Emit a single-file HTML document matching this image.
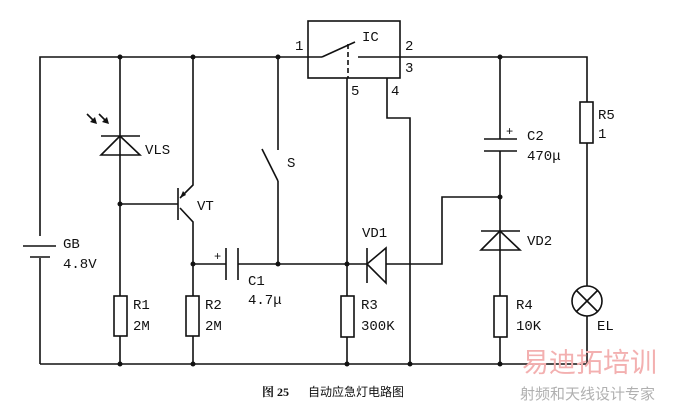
<!DOCTYPE html>
<html><head><style>body{margin:0;background:#fff}svg{display:block}text{font-family:"Liberation Mono",monospace;font-size:14px;fill:#111}</style></head><body>
<svg width="675" height="403" viewBox="0 0 675 403" xmlns="http://www.w3.org/2000/svg">
<g stroke="#111" stroke-width="1.6" fill="none">
<polyline points="40,236 40,57 322,57"/>
<line x1="40" y1="258" x2="40" y2="364"/>
<line x1="40" y1="364" x2="587" y2="364"/>
<polyline points="358,57 587,57 587,102"/>
<line x1="23" y1="246" x2="56" y2="246"/><line x1="30" y1="257" x2="50" y2="257"/>
<rect x="308" y="21" width="92" height="57"/>
<line x1="322" y1="57" x2="355" y2="42"/>
<line x1="348" y1="44" x2="348" y2="78" stroke-dasharray="5,3"/>
<line x1="347" y1="78" x2="347" y2="296"/><line x1="347" y1="337" x2="347" y2="364"/>
<polyline points="387,78 387,118 410,118 410,364"/>
<line x1="120" y1="57" x2="120" y2="296"/><line x1="120" y1="336" x2="120" y2="364"/>
<line x1="101" y1="136" x2="140" y2="136"/>
<polygon points="120,136 101,155 140,155" fill="#fff"/>
<line x1="120" y1="136" x2="120" y2="155"/>
<line x1="87" y1="114" x2="95" y2="122"/><line x1="99" y1="114" x2="107" y2="122"/>
<line x1="120" y1="204" x2="178" y2="204"/>
<line x1="178" y1="188" x2="178" y2="220"/>
<polyline points="180,198 193,185 193,57"/>
<polyline points="180,208 193,222 193,296"/>
<line x1="193" y1="336" x2="193" y2="364"/>
<line x1="193" y1="264" x2="226" y2="264"/>
<line x1="226" y1="248" x2="226" y2="280"/><line x1="238" y1="248" x2="238" y2="280"/>
<line x1="238" y1="264" x2="367" y2="264"/>
<line x1="278" y1="57" x2="278" y2="150"/>
<line x1="262" y1="149" x2="278" y2="181"/>
<line x1="278" y1="181" x2="278" y2="264"/>
<line x1="367" y1="248" x2="367" y2="283"/>
<polygon points="367,264 386,248 386,283" fill="#fff"/>
<polyline points="386,264 442,264 442,197 500,197"/>
<line x1="500" y1="57" x2="500" y2="139"/>
<line x1="484" y1="139" x2="517" y2="139"/><line x1="484" y1="151" x2="517" y2="151"/>
<line x1="500" y1="151" x2="500" y2="296"/>
<line x1="481" y1="231" x2="520" y2="231"/>
<polygon points="500,231 481,250 520,250" fill="#fff"/>
<line x1="500" y1="231" x2="500" y2="250"/>
<line x1="500" y1="337" x2="500" y2="364"/>
<line x1="587" y1="143" x2="587" y2="286"/><line x1="587" y1="316" x2="587" y2="364"/>
<g fill="#fff">
<rect x="114" y="296" width="13" height="40"/>
<rect x="186" y="296" width="13" height="40"/>
<rect x="341" y="296" width="13" height="41"/>
<rect x="494" y="296" width="13" height="41"/>
<rect x="580" y="102" width="13" height="41"/>
<circle cx="587" cy="301" r="15"/>
</g>
<line x1="576" y1="290" x2="598" y2="312"/><line x1="598" y1="290" x2="576" y2="312"/>
</g>
<g fill="#111">
<circle cx="120" cy="57" r="2.5"/><circle cx="193" cy="57" r="2.5"/><circle cx="278" cy="57" r="2.5"/><circle cx="500" cy="57" r="2.5"/>
<circle cx="120" cy="204" r="2.5"/><circle cx="193" cy="264" r="2.5"/><circle cx="278" cy="264" r="2.5"/><circle cx="347" cy="264" r="2.5"/><circle cx="500" cy="197" r="2.5"/>
<circle cx="120" cy="364" r="2.5"/><circle cx="193" cy="364" r="2.5"/><circle cx="347" cy="364" r="2.5"/><circle cx="410" cy="364" r="2.5"/><circle cx="500" cy="364" r="2.5"/>
<polygon points="97,124 90,122 95,117"/><polygon points="109,124 102,122 107,117"/>
<polygon points="180,198 183,191 186,195"/>
</g>
<text x="295" y="50">1</text><text x="362" y="41">IC</text>
<text x="405" y="50">2</text><text x="405" y="72">3</text>
<text x="351" y="95">5</text><text x="391" y="95">4</text>
<text x="145" y="154">VLS</text><text x="197" y="210">VT</text><text x="287" y="167">S</text>
<text x="63" y="248">GB</text><text x="63" y="268">4.8V</text>
<text x="214" y="260" style="font-size:12px">+</text>
<text x="248" y="285">C1</text><text x="248" y="304">4.7μ</text>
<text x="362" y="237">VD1</text>
<text x="133" y="309">R1</text><text x="133" y="330">2M</text>
<text x="205" y="309">R2</text><text x="205" y="330">2M</text>
<text x="361" y="309">R3</text><text x="361" y="330">300K</text>
<text x="516" y="309">R4</text><text x="516" y="330">10K</text>
<text x="527" y="245">VD2</text>
<text x="506" y="135" style="font-size:12px">+</text>
<text x="527" y="140">C2</text><text x="527" y="160">470μ</text>
<text x="598" y="119">R5</text><text x="598" y="138">1</text>
<text x="597" y="330">EL</text>
<text x="262" y="396" style="font-family:'Liberation Serif','Noto Serif CJK SC',serif;font-size:12px;font-weight:bold">图 25</text>
<text x="308" y="396" style="font-family:'Liberation Sans','Noto Sans CJK SC',sans-serif;font-size:12px">自动应急灯电路图</text>
<text x="522" y="372" style="font-family:'Noto Sans CJK SC',sans-serif;font-size:27px;fill:#f3b0b0">易迪拓培训</text>
<text x="520" y="399" style="font-family:'Noto Sans CJK SC',sans-serif;font-size:15px;fill:#b0b0b0">射频和天线设计专家</text>
</svg>
</body></html>
